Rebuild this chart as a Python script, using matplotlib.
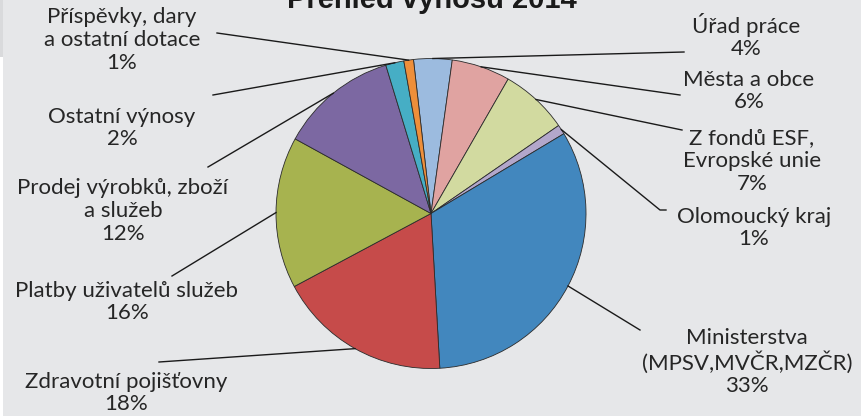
import numpy as np
import matplotlib
matplotlib.use("Agg")
import matplotlib.pyplot as plt
from matplotlib.patches import Rectangle

plt.rcParams['font.family'] = ['Lato', 'DejaVu Sans']

# data (slices clockwise from the top)
names = ["Úřad práce\n4%",
         "Města a obce\n6%",
         "Z fondů ESF,\nEvropské unie\n7%",
         "Olomoucký kraj\n1%",
         "Ministerstva\n(MPSV,MVČR,MZČR)\n33%",
         "Zdravotní pojišťovny\n18%",
         "Platby uživatelů služeb\n16%",
         "Prodej výrobků, zboží\na služeb\n12%",
         "Ostatní výnosy\n2%",
         "Příspěvky, dary\na ostatní dotace\n1%"]
values = [4.0, 6.1, 7.1, 1.0, 32.7, 18.1, 15.8, 12.3, 1.9, 1.0]
colors = ["#9CBBDF", "#E0A3A1", "#D2DAA0", "#B3A7CB", "#4287BE",
          "#C64B4A", "#A7B34F", "#7C68A2", "#46AEC5", "#EE8F3A"]

W, H = 862, 416
fig = plt.figure(figsize=(W / 100, H / 100), dpi=100)
fig.patch.set_facecolor("#E6E7E9")
ax = fig.add_axes([0, 0, 1, 1])

# left edge of the screenshot
fig.patches.append(Rectangle((0, 0), 3 / W, 1 - 57 / H, transform=fig.transFigure,
                             facecolor="white", edgecolor="none"))
fig.patches.append(Rectangle((0, 1 - 57 / H), 3 / W, 57 / H, transform=fig.transFigure,
                             facecolor="#D9DADC", edgecolor="none"))

cx, cy, r = 431, H - 213.5, 155
wedges, _ = ax.pie(values, colors=colors, startangle=96.5, counterclock=False,
                   center=(cx, cy), radius=r, frame=True,
                   wedgeprops=dict(edgecolor="#2b2b2b", linewidth=0.6))
ax.set_xlim(0, W)
ax.set_ylim(0, H)
ax.set_aspect("equal")
ax.axis("off")

# label block centres and where the leader line starts (pixels from top-left)
label_pos = [(746, 36), (749, 91), (752, 161), (754, 228), (747, 362),
             (126, 393), (127, 302), (123, 211), (122, 128), (122, 40)]
line_start = [(684, 52), (680, 95), (682, 130), (660, 210), (640, 330),
              (159, 362), (172, 276), (208, 167), (213, 95), (217, 33)]

for w, txt, (lx, ly), (sx, sy) in zip(wedges, names, label_pos, line_start):
    mid = np.deg2rad((w.theta1 + w.theta2) / 2)
    ex = cx + r * np.cos(mid)
    ey = cy + r * np.sin(mid)
    ax.text(lx, H - ly, txt, ha="center", va="center", fontsize=16,
            color="#262626", linespacing=1.17)
    xs = [sx, ex]
    ys = [H - sy, ey]
    if txt.startswith("Olomouck"):
        xs = [sx + 6, sx, ex]
        ys = [H - sy, H - sy, ey]
    ax.plot(xs, ys, color="#1a1a1a", lw=1.0)

ax.text(432, H - 8, "Přehled výnosů 2014", ha="center", va="baseline",
        fontsize=21, fontweight="bold", family=["Liberation Sans", "DejaVu Sans"],
        color="#1a1a1a")

fig.savefig("out.png", dpi=100, facecolor=fig.get_facecolor())
